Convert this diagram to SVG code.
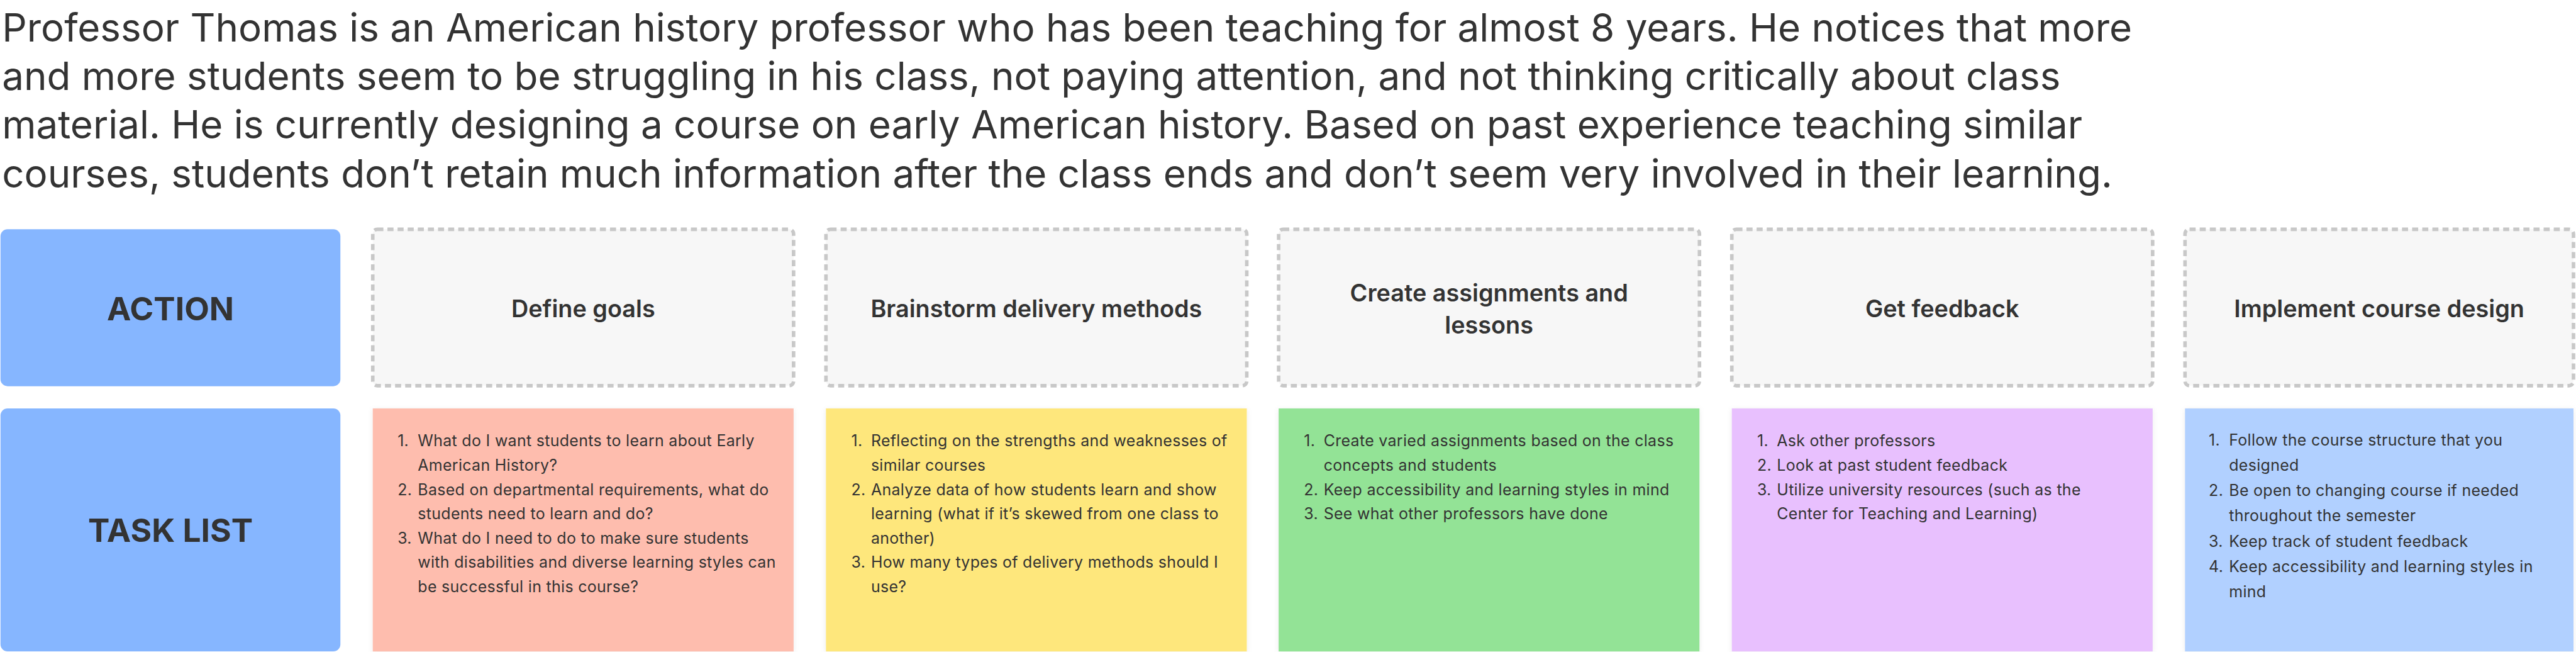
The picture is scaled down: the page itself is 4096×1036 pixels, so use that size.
<svg xmlns="http://www.w3.org/2000/svg" width="4096" height="1036" viewBox="0 0 4096 1036">
<defs>
<style>
.title{font-family:Inter,"Noto Sans",sans-serif;font-size:77px;fill:#333333;}
.rowlab{font-family:Inter,"Noto Sans",sans-serif;font-size:64px;font-weight:700;fill:#333333;text-anchor:middle;}
.head{font-family:Inter,"Noto Sans",sans-serif;font-size:47px;font-weight:600;fill:#333333;text-anchor:middle;}
.task{font-family:Inter,"Noto Sans",sans-serif;font-size:31px;letter-spacing:0.4px;fill:#333333;}
.hbox{fill:#f7f7f7;stroke:#c8c8c8;stroke-width:7;stroke-dasharray:12 8;}
.lab{fill:#86b6ff;}
</style>
<filter id="sh" x="-5%" y="-5%" width="110%" height="110%">
<feDropShadow dx="0" dy="2" stdDeviation="5" flood-color="#000000" flood-opacity="0.08"/>
</filter>
</defs>
<rect width="4096" height="1036" fill="#ffffff"/>
<g transform="scale(0.80424)">
<g id="intro">
<text class="title" x="4" y="82">Professor Thomas is an American history professor who has been teaching for almost 8 years. He notices that more</text>
<text class="title" x="4" y="178">and more students seem to be struggling in his class, not paying attention, and not thinking critically about class</text>
<text class="title" x="4" y="274">material. He is currently designing a course on early American history. Based on past experience teaching similar</text>
<text class="title" x="4" y="370">courses, students don’t retain much information after the class ends and don’t seem very involved in their learning.</text>
</g>
<g id="action-label">
<rect class="lab" x="1" y="453" width="672" height="310" rx="14"/>
<text class="rowlab" x="337" y="633">ACTION</text>
</g>
<g id="tasklist-label">
<rect class="lab" x="1" y="807" width="672" height="480" rx="14"/>
<text class="rowlab" x="337" y="1071">TASK LIST</text>
</g>
<g id="head-1">
<rect class="hbox" x="737" y="453" width="832" height="309" rx="9"/>
<text class="head" x="1153" y="627">Define goals</text>
</g>
<g id="head-2">
<rect class="hbox" x="1633" y="453" width="832" height="309" rx="9"/>
<text class="head" x="2049" y="627">Brainstorm delivery methods</text>
</g>
<g id="head-3">
<rect class="hbox" x="2528" y="453" width="832" height="309" rx="9"/>
<text class="head" x="2944" y="595">Create assignments and</text>
<text class="head" x="2944" y="659">lessons</text>
</g>
<g id="head-4">
<rect class="hbox" x="3424" y="453" width="832" height="309" rx="9"/>
<text class="head" x="3840" y="627">Get feedback</text>
</g>
<g id="head-5">
<rect class="hbox" x="4320" y="453" width="768" height="309" rx="9"/>
<text class="head" x="4704" y="627">Implement course design</text>
</g>
<g id="tasks-1">
<rect x="737" y="807" width="832" height="480" fill="#febdae" filter="url(#sh)"/>
<text class="task" x="786" y="882">1.</text><text class="task" x="826" y="882">What do I want students to learn about Early</text>
<text class="task" x="826" y="930">American History?</text>
<text class="task" x="786" y="978">2.</text><text class="task" x="826" y="978">Based on departmental requirements, what do</text>
<text class="task" x="826" y="1026">students need to learn and do?</text>
<text class="task" x="786" y="1074">3.</text><text class="task" x="826" y="1074">What do I need to do to make sure students</text>
<text class="task" x="826" y="1122">with disabilities and diverse learning styles can</text>
<text class="task" x="826" y="1170">be successful in this course?</text>
</g>
<g id="tasks-2">
<rect x="1633" y="807" width="832" height="480" fill="#fee77c" filter="url(#sh)"/>
<text class="task" x="1683" y="882">1.</text><text class="task" x="1722" y="882">Reflecting on the strengths and weaknesses of</text>
<text class="task" x="1722" y="930">similar courses</text>
<text class="task" x="1683" y="978">2.</text><text class="task" x="1722" y="978">Analyze data of how students learn and show</text>
<text class="task" x="1722" y="1026">learning (what if it’s skewed from one class to</text>
<text class="task" x="1722" y="1074">another)</text>
<text class="task" x="1683" y="1122">3.</text><text class="task" x="1722" y="1122">How many types of delivery methods should I</text>
<text class="task" x="1722" y="1170">use?</text>
</g>
<g id="tasks-3">
<rect x="2528" y="807" width="832" height="480" fill="#93e396" filter="url(#sh)"/>
<text class="task" x="2578" y="882">1.</text><text class="task" x="2617" y="882">Create varied assignments based on the class</text>
<text class="task" x="2617" y="930">concepts and students</text>
<text class="task" x="2578" y="978">2.</text><text class="task" x="2617" y="978">Keep accessibility and learning styles in mind</text>
<text class="task" x="2578" y="1026">3.</text><text class="task" x="2617" y="1026">See what other professors have done</text>
</g>
<g id="tasks-4">
<rect x="3424" y="807" width="832" height="480" fill="#e8c0fe" filter="url(#sh)"/>
<text class="task" x="3474" y="882">1.</text><text class="task" x="3513" y="882">Ask other professors</text>
<text class="task" x="3474" y="930">2.</text><text class="task" x="3513" y="930">Look at past student feedback</text>
<text class="task" x="3474" y="978">3.</text><text class="task" x="3513" y="978">Utilize university resources (such as the</text>
<text class="task" x="3513" y="1026">Center for Teaching and Learning)</text>
</g>
<g id="tasks-5">
<rect x="4320" y="807" width="768" height="480" fill="#b1d0ff" filter="url(#sh)"/>
<text class="task" x="4367" y="880">1.</text><text class="task" x="4407" y="880">Follow the course structure that you</text>
<text class="task" x="4407" y="930">designed</text>
<text class="task" x="4367" y="980">2.</text><text class="task" x="4407" y="980">Be open to changing course if needed</text>
<text class="task" x="4407" y="1030">throughout the semester</text>
<text class="task" x="4367" y="1080">3.</text><text class="task" x="4407" y="1080">Keep track of student feedback</text>
<text class="task" x="4367" y="1130">4.</text><text class="task" x="4407" y="1130">Keep accessibility and learning styles in</text>
<text class="task" x="4407" y="1180">mind</text>
</g>
<g id="connectors"/>
</g>
</svg>
